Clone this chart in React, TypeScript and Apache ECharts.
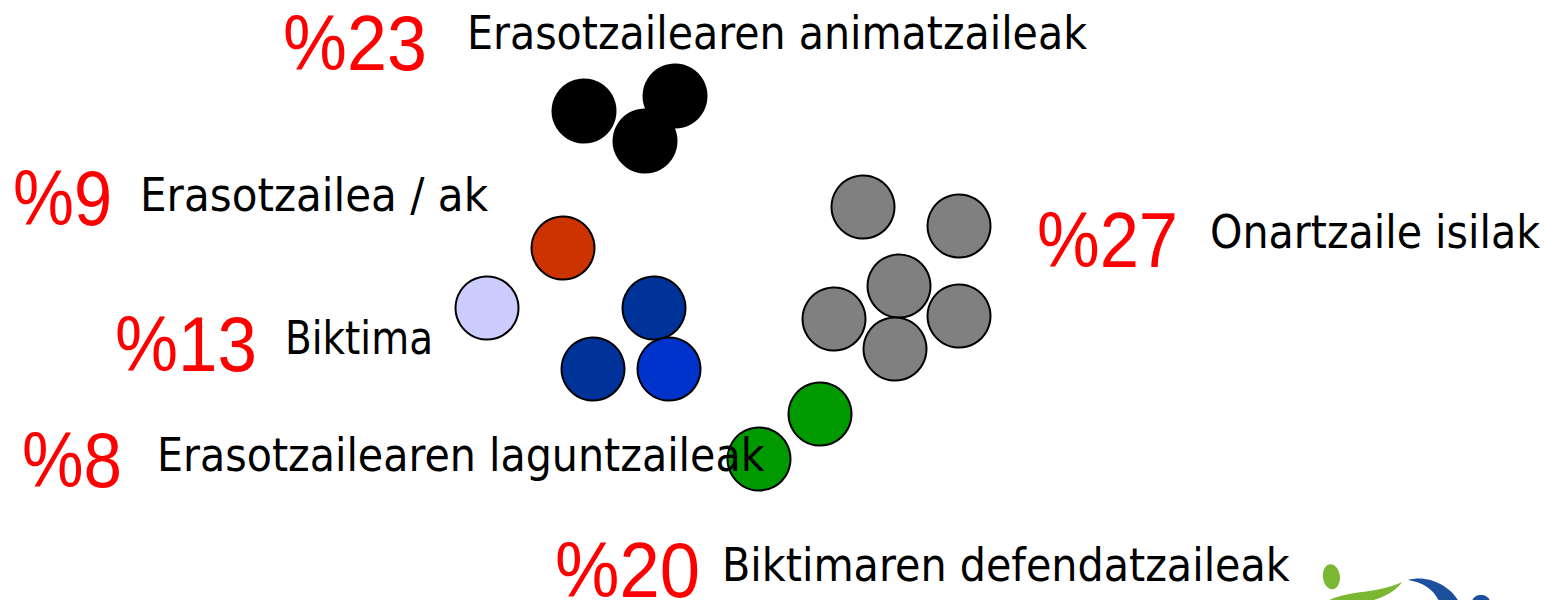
import React, { useEffect, useRef } from "react";
import * as echarts from "echarts";

// ---- data ----
const groupNames = [
  "Erasotzailearen animatzaileak",
  "Erasotzailea / ak",
  "Onartzaile isilak",
  "Biktima",
  "Erasotzailearen laguntzaileak",
  "Biktimaren defendatzaileak",
];
const groupPercents = [23, 9, 27, 13, 8, 20];

// circle positions (slide coordinates)
const animatzaileakPts = [[584, 111], [675, 96], [645, 141]];
const erasotzaileaPts = [[563, 248]];
const onartzailePts = [[863, 207], [959, 226], [899, 286], [834, 319], [959, 316], [895, 349]];
const biktimaPts = [[487, 308]];
const laguntzaileakPts = [[654, 308], [593, 369], [669, 369]];
const defendatzaileakPts = [[820, 414], [759, 459]];

const groupPoints = [animatzaileakPts, erasotzaileaPts, onartzailePts, biktimaPts, laguntzaileakPts, defendatzaileakPts];
const groupColors = [
  ["#000000", "#000000", "#000000"],
  ["#CC3300"],
  ["#808080", "#808080", "#808080", "#808080", "#808080", "#808080"],
  ["#CCCCFF"],
  ["#003399", "#003399", "#0033CC"],
  ["#009900", "#009900"],
];

// ---- layout of the texts ----
const pctLeft = [283, 13, 1037, 115, 22, 555];
const pctRight = [427, 112, 1178, 257, 122, 700];
const pctMid = [44, 198, 240, 344, 461, 570];
const labelLeft = [467, 140, 1210, 285, 157, 722];
const labelRight = [1087, 488, 1540, 433, 765, 1290];
const labelMid = [33, 195, 232, 338, 455, 565];

const PCT_FONT = '77px "Liberation Sans", Arial, sans-serif';
const LABEL_FONT = '47px "DejaVu Sans", Verdana, sans-serif';

function measure(text: string, font: string): number {
  const c = document.createElement("canvas");
  const ctx = c.getContext("2d");
  if (!ctx) return text.length * 20;
  ctx.font = font;
  return ctx.measureText(text).width;
}

echarts.graphic.registerShape(
  "logoGreenSwoosh",
  echarts.graphic.extendPath(
    "M1326 602 C1345 590 1378 594 1402 582 C1394 594 1376 601 1356 604 Z",
    {}
  )
);
echarts.graphic.registerShape(
  "logoBlueSwoosh",
  echarts.graphic.extendPath(
    "M1408 580 C1428 574 1452 586 1460 604 L1440 604 C1436 592 1426 583 1408 580 Z",
    {}
  )
);

export default function App() {
  const ref = useRef<HTMLDivElement>(null);
  useEffect(() => {
    if (!ref.current) return;
    const chart = echarts.init(ref.current, undefined, { renderer: "svg" });

    const series = groupNames.map((name, gi) => ({
      type: "scatter",
      name,
      symbol: "circle",
      symbolSize: 63,
      silent: true,
      z: 2,
      data: groupPoints[gi].map((p, i) => ({
        value: p,
        itemStyle: {
          color: groupColors[gi][i],
          borderColor: "#000000",
          borderWidth: 2,
          opacity: 1,
        },
      })),
      emphasis: { disabled: true },
    }));

    const texts: any[] = [];
    groupNames.forEach((name, i) => {
      const pct = "%" + groupPercents[i];
      const pw = measure(pct, PCT_FONT);
      texts.push({
        type: "text",
        x: pctLeft[i],
        y: pctMid[i],
        scaleX: (pctRight[i] - pctLeft[i]) / pw,
        z: 100,
        silent: true,
        style: {
          text: pct,
          font: PCT_FONT,
          fill: "#FF0000",
          align: "left",
          verticalAlign: "middle",
          lineHeight: 56,
        },
      });
      const lw = measure(name, LABEL_FONT);
      texts.push({
        type: "text",
        x: labelLeft[i],
        y: labelMid[i],
        scaleX: (labelRight[i] - labelLeft[i]) / lw,
        z: 100,
        silent: true,
        style: {
          text: name,
          font: LABEL_FONT,
          fill: "#000000",
          align: "left",
          verticalAlign: "middle",
          lineHeight: 48,
        },
      });
    });

    const logo: any[] = [
      {
        type: "ellipse",
        shape: { cx: 1331, cy: 577, rx: 8.5, ry: 12.5 },
        rotation: 0.12,
        originX: 1331,
        originY: 577,
        style: { fill: "#7CB733" },
        z: 50,
        silent: true,
      },
      { type: "logoGreenSwoosh", style: { fill: "#7CB733" }, z: 50, silent: true },
      { type: "logoBlueSwoosh", style: { fill: "#1C4F9C" }, z: 50, silent: true },
      {
        type: "ellipse",
        shape: { cx: 1481, cy: 602, rx: 9, ry: 7 },
        style: { fill: "#1C4F9C" },
        z: 50,
        silent: true,
      },
    ];

    chart.setOption({
      animation: false,
      backgroundColor: "#ffffff",
      grid: { left: 0, right: 0, top: 0, bottom: 0 },
      xAxis: { type: "value", min: 0, max: 1545, show: false },
      yAxis: { type: "value", min: 0, max: 600, inverse: true, show: false },
      series,
      graphic: { elements: [...logo, ...texts] },
    });
    return () => chart.dispose();
  }, []);
  return (
    <div
      ref={ref}
      style={{ position: "absolute", left: 0, top: 0, width: 1545, height: 600 }}
    />
  );
}
